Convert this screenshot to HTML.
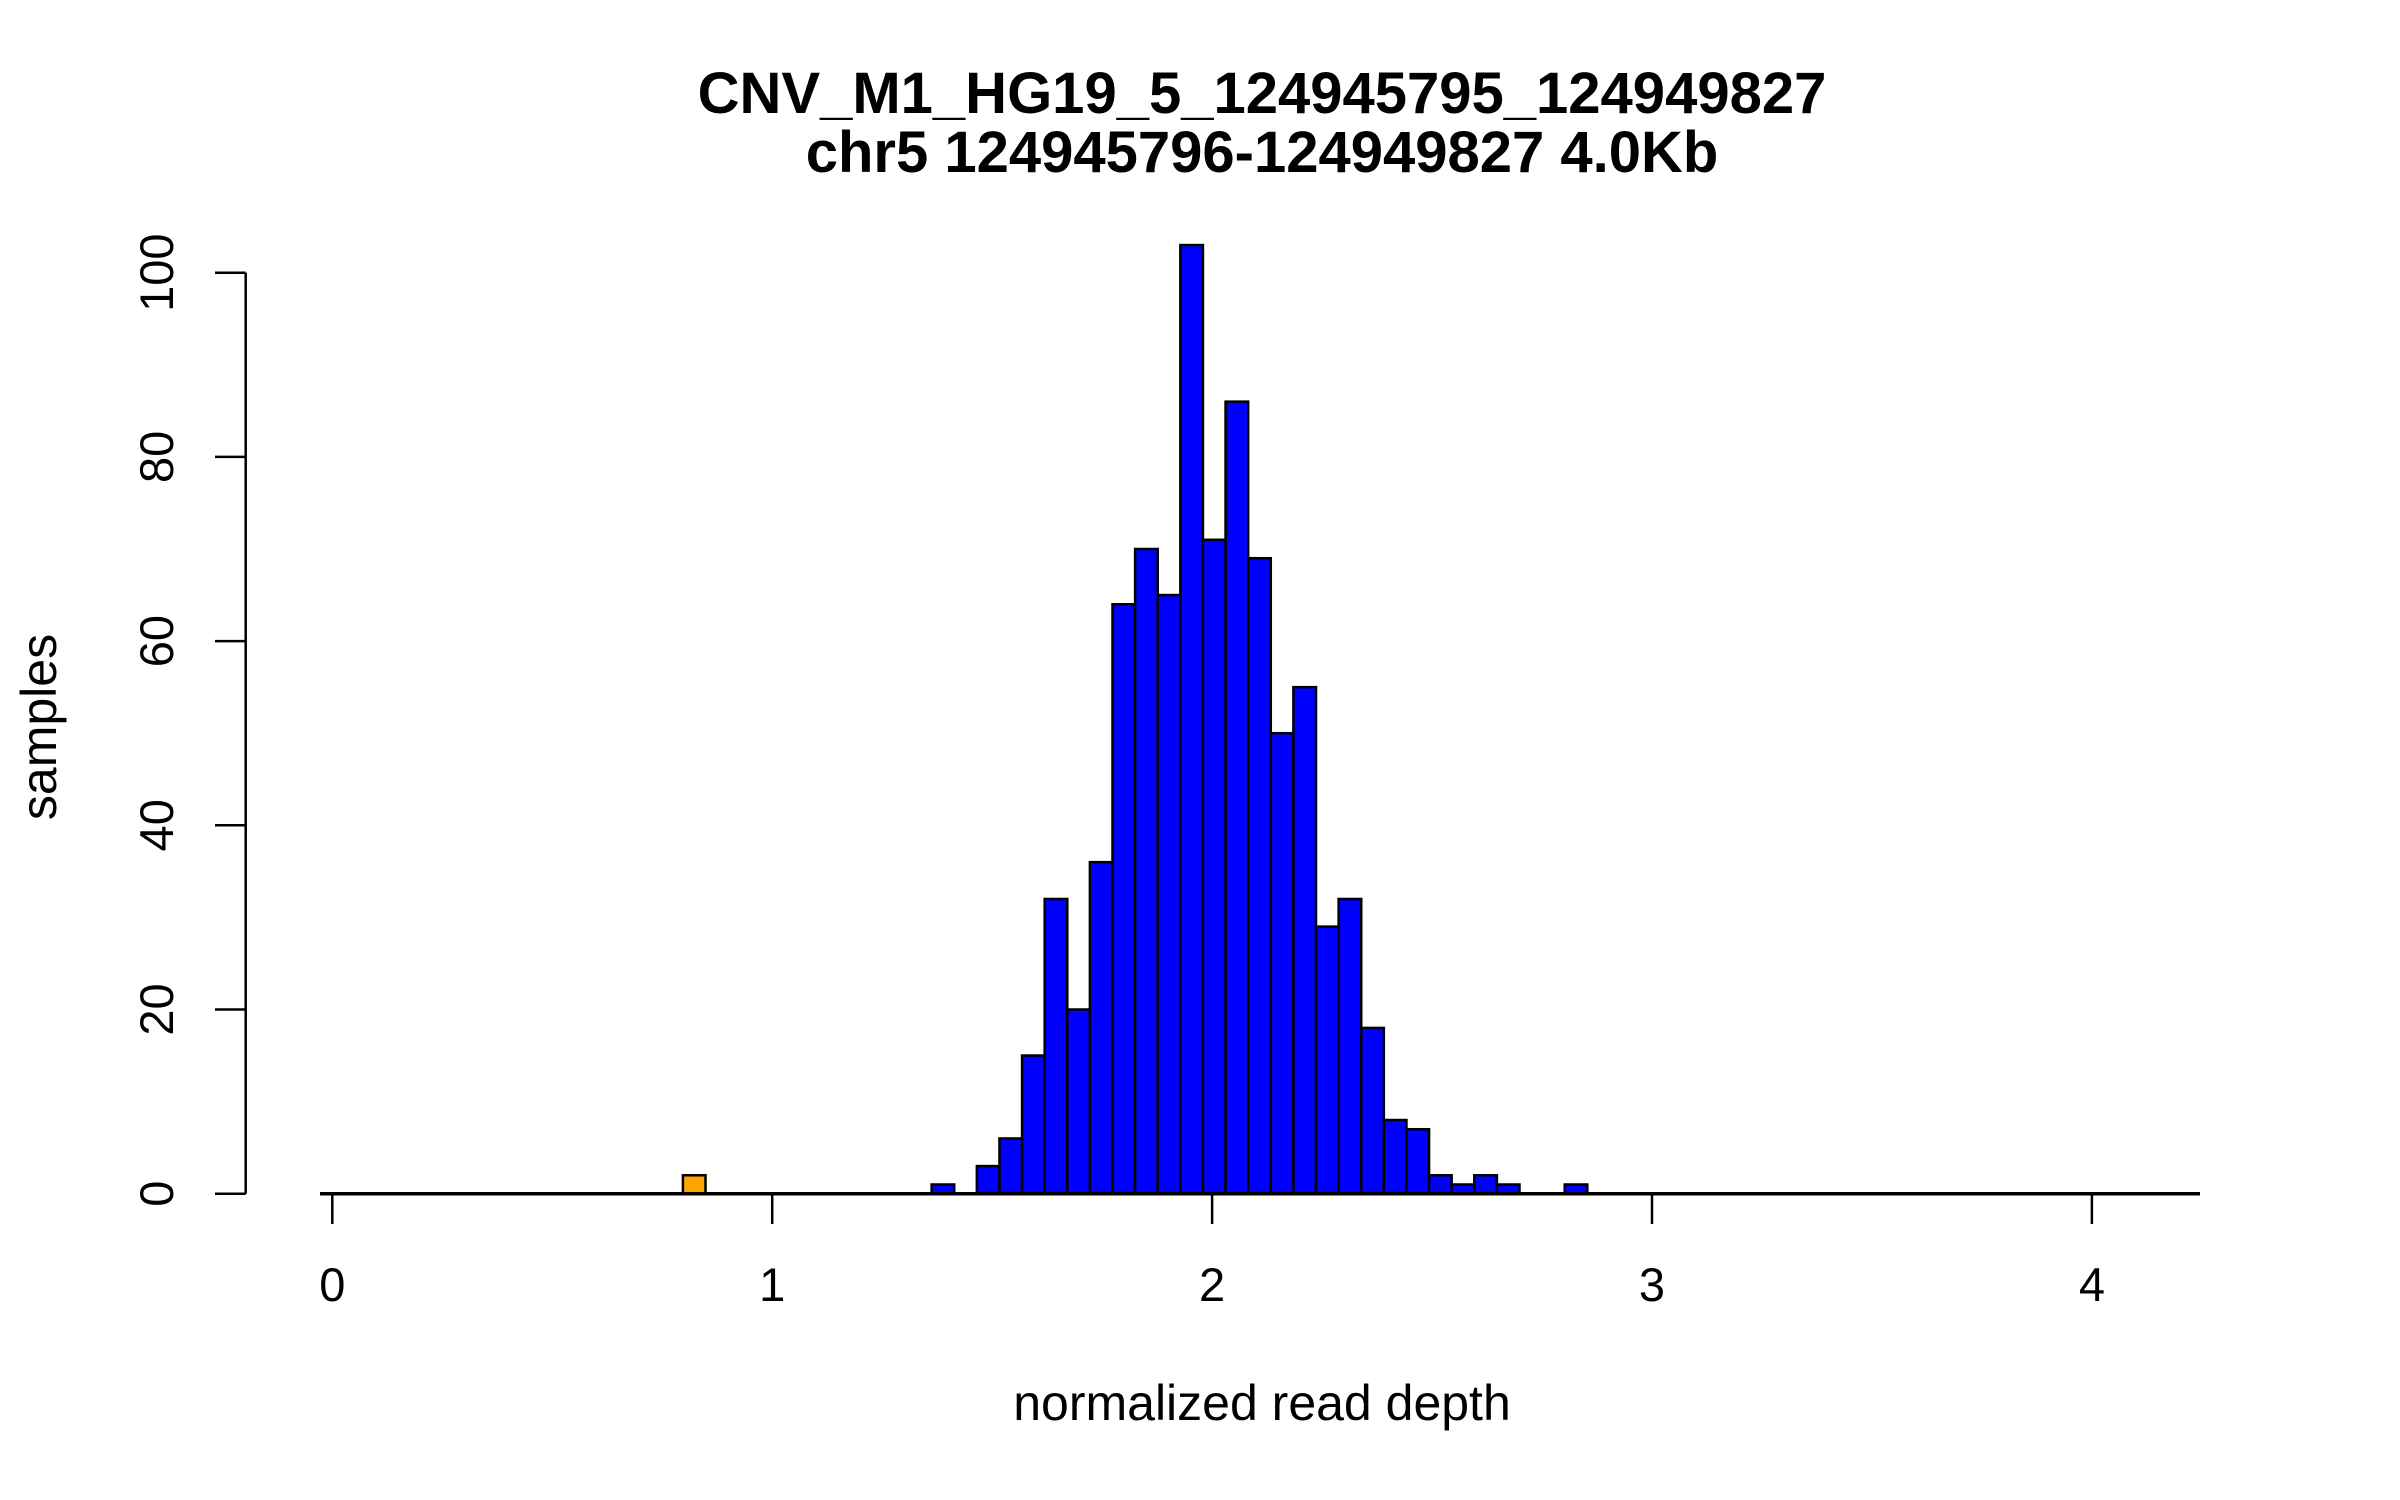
<!DOCTYPE html>
<html><head><meta charset="utf-8"><style>
html,body{margin:0;padding:0;background:#fff;}
svg{display:block;font-family:"Liberation Sans",Arial,sans-serif;}
</style></head><body>
<svg id="chart" width="2400" height="1500" viewBox="0 0 2400 1500" xmlns="http://www.w3.org/2000/svg">
<text x="1262" y="113" text-anchor="middle" font-size="58" font-weight="bold">CNV_M1_HG19_5_124945795_124949827</text>
<text x="1262" y="172" text-anchor="middle" font-size="58" font-weight="bold">chr5 124945796-124949827 4.0Kb</text>
<text x="1262" y="1420" text-anchor="middle" font-size="50">normalized read depth</text>
<text transform="translate(56,727) rotate(-90)" text-anchor="middle" font-size="50">samples</text>
<g id="bars"></g>
<g id="axes"></g>
</svg>
<script>
const binStart = 0.797;
const binWidth = 0.0514;
const counts = [2,0,0,0,0,0,0,0,0,0,0,1,0,3,6,15,32,20,36,64,70,65,103,71,86,69,50,55,29,32,18,8,7,2,1,2,1,0,0,1];
const highlightBins = [0];
const xTicks = [0,1,2,3,4];
const yTicks = [0,20,40,60,80,100];

const NS = "http://www.w3.org/2000/svg";
function xs(v){ return 332.3 + v*439.9; }
function ys(v){ return 1193.7 - v*9.21; }
function mk(tag, attrs, parent){ const e=document.createElementNS(NS,tag); for(const k in attrs) e.setAttribute(k,attrs[k]); parent.appendChild(e); return e; }

const bars=document.getElementById('bars');
counts.forEach((c,i)=>{
  if(c<=0) return;
  const x0=xs(binStart+i*binWidth), x1=xs(binStart+(i+1)*binWidth);
  const r=mk('rect',{x:x0,y:ys(c),width:x1-x0,height:ys(0)-ys(c),fill:highlightBins.includes(i)?'#FFA500':'#0000FF',stroke:'#000','stroke-width':2.5},bars);
  
  
});

const ax=document.getElementById('axes');
const base=mk('line',{x1:320,x2:2200,y1:ys(0),y2:ys(0),stroke:'#000','stroke-width':3.5},ax);


const yl=mk('line',{x1:245.7,x2:245.7,y1:ys(yTicks[yTicks.length-1]),y2:ys(0),stroke:'#000','stroke-width':2.5},ax);


yTicks.forEach(t=>{
  const l=mk('line',{x1:215,x2:245.7,y1:ys(t),y2:ys(t),stroke:'#000','stroke-width':2.5},ax);
  
  
  const tx=mk('text',{transform:`translate(173,${ys(t)}) rotate(-90)`,'text-anchor':'middle','font-size':47},ax);
  tx.textContent=t;
  
  
});
xTicks.forEach(t=>{
  const l=mk('line',{x1:xs(t),x2:xs(t),y1:ys(0),y2:1224,stroke:'#000','stroke-width':2.5},ax);
  
  
  const tx=mk('text',{x:xs(t),y:1301,'text-anchor':'middle','font-size':47},ax);
  tx.textContent=t;
  
  
});
</script>
</body></html>
